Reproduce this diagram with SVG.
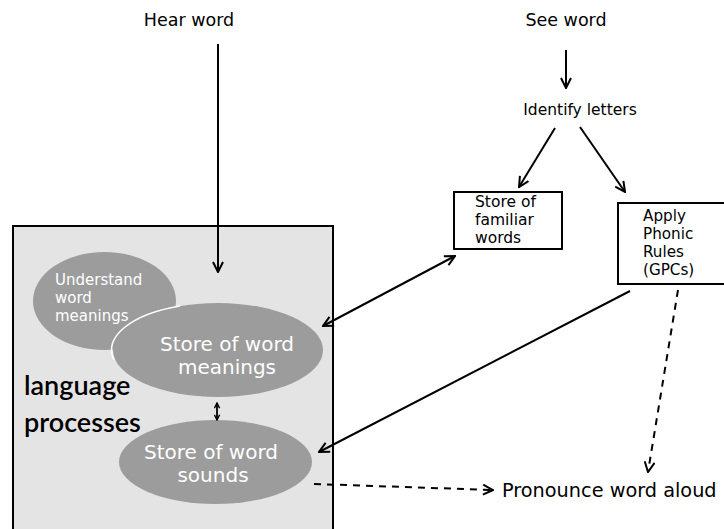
<svg xmlns="http://www.w3.org/2000/svg" width="724" height="529" viewBox="0 0 724 529">
<defs>
<marker id="ah" viewBox="0 0 12 12" refX="11" refY="6" markerWidth="12" markerHeight="12" markerUnits="userSpaceOnUse" orient="auto-start-reverse">
<path d="M1,1 L11,6 L1,11" fill="none" stroke="#000" stroke-width="2"/>
</marker>
<marker id="sm" viewBox="0 0 8 8" refX="7" refY="4" markerWidth="7" markerHeight="7" markerUnits="userSpaceOnUse" orient="auto-start-reverse">
<path d="M1,1 L7,4 L1,7" fill="none" stroke="#000" stroke-width="1.6"/>
</marker>
</defs>
<style>
.t{font-family:"DejaVu Sans",Verdana,sans-serif;fill:#000}
.w{font-family:"DejaVu Sans",Verdana,sans-serif;fill:#fff}
.ln{stroke:#000;stroke-width:2;fill:none}
.d{stroke-dasharray:7,6}
.el{fill:#9c9c9c}
.box{fill:#fff;stroke:#000;stroke-width:2}
.hw{font-family:"Comic Sans MS","Lato","DejaVu Sans",sans-serif;font-weight:600;font-size:27px;fill:#000}
</style>
<rect width="724" height="529" fill="#fff"/>
<g id="lang">
<rect x="13" y="226" width="320" height="310" fill="#e4e4e4" stroke="#000" stroke-width="2"/>
<text class="hw" x="24" y="395">language</text>
<text class="hw" x="24" y="432">processes</text>
</g>
<g id="hear"><text class="t" x="189" y="26" font-size="17.5" text-anchor="middle">Hear word</text></g>
<g id="see"><text class="t" x="566" y="26" font-size="17.5" text-anchor="middle">See word</text></g>
<g id="identify"><text class="t" x="580" y="115" font-size="15.5" text-anchor="middle">Identify letters</text></g>
<g id="familiar">
<rect class="box" x="454" y="192" width="108" height="57"/>
<text class="t" x="475" y="207" font-size="15.5">Store of</text>
<text class="t" x="475" y="225" font-size="15.5">familiar</text>
<text class="t" x="475" y="243" font-size="15.5">words</text>
</g>
<g id="phonic">
<rect class="box" x="618" y="203" width="110" height="81"/>
<text class="t" x="643" y="221" font-size="15.2">Apply</text>
<text class="t" x="643" y="239" font-size="15.2">Phonic</text>
<text class="t" x="643" y="257" font-size="15.2">Rules</text>
<text class="t" x="643" y="275" font-size="15.2">(GPCs)</text>
</g>
<g id="understand">
<ellipse class="el" cx="104.5" cy="301" rx="71.5" ry="49"/>
<text class="w" x="55" y="285" font-size="15">Understand</text>
<text class="w" x="55" y="303" font-size="15">word</text>
<text class="w" x="55" y="321" font-size="15">meanings</text>
</g>
<g id="meanings">
<ellipse class="el" cx="218" cy="350" rx="105" ry="47"/>
<path d="M114,360 A105,47 0 0 1 180,306" fill="none" stroke="#fff" stroke-width="1.5"/>
<text class="w" x="227" y="351" font-size="20" text-anchor="middle">Store of word</text>
<text class="w" x="227" y="374" font-size="20" text-anchor="middle">meanings</text>
</g>
<g id="sounds">
<ellipse class="el" cx="215.5" cy="462" rx="96.5" ry="42"/>
<text class="w" x="211" y="459" font-size="20" text-anchor="middle">Store of word</text>
<text class="w" x="213" y="482" font-size="20" text-anchor="middle">sounds</text>
</g>
<g id="pronounce"><text class="t" x="502" y="497" font-size="19.3">Pronounce word aloud</text></g>
<g id="connectors">
<line class="ln" x1="218" y1="44" x2="218" y2="272" marker-end="url(#ah)"/>
<line class="ln" x1="566" y1="50" x2="566" y2="88" marker-end="url(#ah)"/>
<line class="ln" x1="555" y1="128" x2="519" y2="187" marker-end="url(#ah)"/>
<line class="ln" x1="580" y1="127" x2="625" y2="192" marker-end="url(#ah)"/>
<line class="ln" x1="455" y1="256" x2="323" y2="326" marker-start="url(#ah)" marker-end="url(#ah)"/>
<line class="ln" x1="630" y1="291" x2="319" y2="452" marker-end="url(#ah)"/>
<line class="ln d" x1="678" y1="290" x2="648" y2="472" marker-end="url(#ah)"/>
<line class="ln d" x1="314" y1="484" x2="493" y2="490" marker-end="url(#ah)"/>
<line x1="217" y1="403" x2="217" y2="420" stroke="#000" stroke-width="1.8" marker-start="url(#sm)" marker-end="url(#sm)"/>
</g>
</svg>
